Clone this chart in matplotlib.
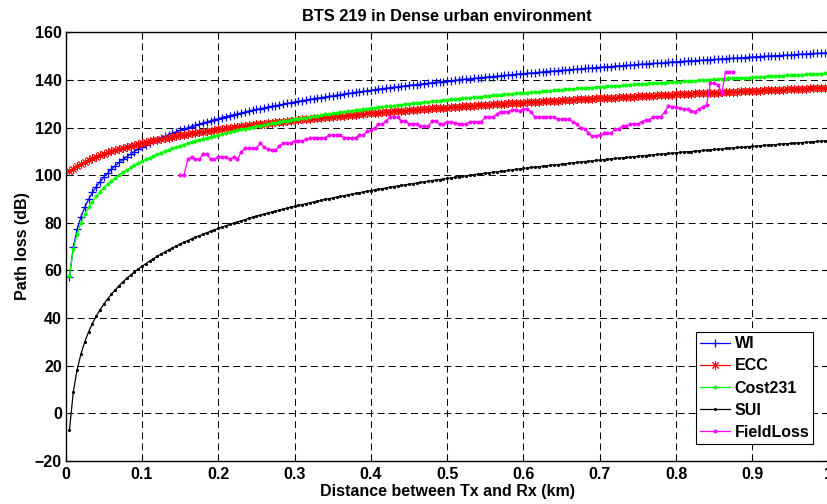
import numpy as np
import matplotlib
matplotlib.use('Agg')
import matplotlib.pyplot as plt

plt.rcParams['font.family'] = ['Liberation Sans', 'DejaVu Sans']
plt.rcParams['font.weight'] = 'bold'
plt.rcParams['font.size'] = 11.5
plt.rcParams['lines.scale_dashes'] = False

# distance samples (km), every 5 m
dist = np.arange(1, 201) * 0.005

wi = [57.2, 69.8, 77.2, 82.4, 86.5, 89.8, 92.7, 95.1, 97.2, 99.2,
      100.9, 102.5, 103.9, 105.3, 106.6, 107.7, 108.8, 109.9, 110.9, 111.8,
      112.6, 113.4, 114.2, 114.9, 115.6, 116.3, 117.0, 117.6, 118.2, 118.8,
      119.3, 119.9, 120.4, 120.9, 121.4, 121.9, 122.4, 122.8, 123.3, 123.7,
      124.2, 124.6, 125.0, 125.4, 125.7, 126.1, 126.5, 126.9, 127.2, 127.6,
      127.9, 128.2, 128.6, 128.9, 129.2, 129.5, 129.8, 130.1, 130.4, 130.7,
      131.0, 131.3, 131.5, 131.8, 132.1, 132.3, 132.6, 132.8, 133.1, 133.3,
      133.6, 133.8, 134.1, 134.3, 134.5, 134.8, 135.0, 135.2, 135.4, 135.6,
      135.9, 136.1, 136.3, 136.5, 136.7, 136.9, 137.1, 137.3, 137.5, 137.7,
      137.9, 138.0, 138.2, 138.4, 138.6, 138.8, 139.0, 139.1, 139.3, 139.5,
      139.6, 139.8, 140.0, 140.2, 140.3, 140.5, 140.6, 140.8, 141.0, 141.1,
      141.3, 141.4, 141.6, 141.7, 141.9, 142.0, 142.2, 142.3, 142.5, 142.6,
      142.8, 142.9, 143.0, 143.2, 143.3, 143.5, 143.6, 143.7, 143.9, 144.0,
      144.1, 144.3, 144.4, 144.5, 144.6, 144.8, 144.9, 145.0, 145.1, 145.3,
      145.4, 145.5, 145.6, 145.8, 145.9, 146.0, 146.1, 146.2, 146.3, 146.5,
      146.6, 146.7, 146.8, 146.9, 147.0, 147.1, 147.2, 147.4, 147.5, 147.6,
      147.7, 147.8, 147.9, 148.0, 148.1, 148.2, 148.3, 148.4, 148.5, 148.6,
      148.7, 148.8, 148.9, 149.0, 149.1, 149.2, 149.3, 149.4, 149.5, 149.6,
      149.7, 149.8, 149.9, 150.0, 150.1, 150.2, 150.2, 150.3, 150.4, 150.5,
      150.6, 150.7, 150.8, 150.9, 151.0, 151.1, 151.1, 151.2, 151.3, 151.4]

ecc = [101.8, 102.6, 103.7, 104.6, 105.5, 106.3, 107.0, 107.7, 108.3, 108.9,
       109.5, 110.0, 110.5, 111.0, 111.5, 111.9, 112.3, 112.7, 113.1, 113.5,
       113.9, 114.2, 114.6, 114.9, 115.2, 115.5, 115.8, 116.1, 116.4, 116.7,
       117.0, 117.2, 117.5, 117.8, 118.0, 118.3, 118.5, 118.7, 119.0, 119.2,
       119.4, 119.6, 119.8, 120.1, 120.3, 120.5, 120.7, 120.9, 121.1, 121.3,
       121.4, 121.6, 121.8, 122.0, 122.2, 122.3, 122.5, 122.7, 122.9, 123.0,
       123.2, 123.4, 123.5, 123.7, 123.8, 124.0, 124.1, 124.3, 124.4, 124.6,
       124.7, 124.9, 125.0, 125.2, 125.3, 125.4, 125.6, 125.7, 125.9, 126.0,
       126.1, 126.3, 126.4, 126.5, 126.6, 126.8, 126.9, 127.0, 127.1, 127.3,
       127.4, 127.5, 127.6, 127.7, 127.9, 128.0, 128.1, 128.2, 128.3, 128.4,
       128.5, 128.6, 128.7, 128.9, 129.0, 129.1, 129.2, 129.3, 129.4, 129.5,
       129.6, 129.7, 129.8, 129.9, 130.0, 130.1, 130.2, 130.3, 130.4, 130.5,
       130.6, 130.7, 130.8, 130.9, 131.0, 131.1, 131.1, 131.2, 131.3, 131.4,
       131.5, 131.6, 131.7, 131.8, 131.9, 132.0, 132.0, 132.1, 132.2, 132.3,
       132.4, 132.5, 132.6, 132.6, 132.7, 132.8, 132.9, 133.0, 133.0, 133.1,
       133.2, 133.3, 133.4, 133.4, 133.5, 133.6, 133.7, 133.8, 133.8, 133.9,
       134.0, 134.1, 134.1, 134.2, 134.3, 134.4, 134.4, 134.5, 134.6, 134.7,
       134.7, 134.8, 134.9, 134.9, 135.0, 135.1, 135.2, 135.2, 135.3, 135.4,
       135.4, 135.5, 135.6, 135.6, 135.7, 135.8, 135.8, 135.9, 136.0, 136.0,
       136.1, 136.2, 136.2, 136.3, 136.4, 136.4, 136.5, 136.6, 136.6, 136.7]

cost231 = [57.7, 68.8, 75.3, 79.9, 83.5, 86.5, 88.9, 91.1, 93.0, 94.7,
           96.2, 97.6, 98.9, 100.1, 101.2, 102.2, 103.2, 104.1, 105.0, 105.8,
           106.6, 107.3, 108.0, 108.7, 109.4, 110.0, 110.6, 111.2, 111.8, 112.3,
           112.8, 113.4, 113.8, 114.3, 114.8, 115.2, 115.7, 116.1, 116.5, 116.9,
           117.3, 117.7, 118.1, 118.5, 118.8, 119.2, 119.5, 119.9, 120.2, 120.5,
           120.8, 121.2, 121.5, 121.8, 122.1, 122.3, 122.6, 122.9, 123.2, 123.5,
           123.7, 124.0, 124.2, 124.5, 124.7, 125.0, 125.2, 125.5, 125.7, 125.9,
           126.2, 126.4, 126.6, 126.8, 127.0, 127.3, 127.5, 127.7, 127.9, 128.1,
           128.3, 128.5, 128.7, 128.9, 129.0, 129.2, 129.4, 129.6, 129.8, 130.0,
           130.1, 130.3, 130.5, 130.7, 130.8, 131.0, 131.2, 131.3, 131.5, 131.7,
           131.8, 132.0, 132.1, 132.3, 132.4, 132.6, 132.7, 132.9, 133.0, 133.2,
           133.3, 133.5, 133.6, 133.8, 133.9, 134.0, 134.2, 134.3, 134.5, 134.6,
           134.7, 134.9, 135.0, 135.1, 135.2, 135.4, 135.5, 135.6, 135.8, 135.9,
           136.0, 136.1, 136.2, 136.4, 136.5, 136.6, 136.7, 136.8, 137.0, 137.1,
           137.2, 137.3, 137.4, 137.5, 137.6, 137.7, 137.9, 138.0, 138.1, 138.2,
           138.3, 138.4, 138.5, 138.6, 138.7, 138.8, 138.9, 139.0, 139.1, 139.2,
           139.3, 139.4, 139.5, 139.6, 139.7, 139.8, 139.9, 140.0, 140.1, 140.2,
           140.3, 140.4, 140.5, 140.6, 140.6, 140.7, 140.8, 140.9, 141.0, 141.1,
           141.2, 141.3, 141.4, 141.5, 141.5, 141.6, 141.7, 141.8, 141.9, 142.0,
           142.1, 142.1, 142.2, 142.3, 142.4, 142.5, 142.6, 142.6, 142.7, 142.8]

sui = [-7.0, 8.9, 18.2, 24.8, 29.9, 34.1, 37.6, 40.7, 43.4, 45.8,
       48.0, 50.0, 51.8, 53.5, 55.1, 56.6, 58.0, 59.3, 60.5, 61.7,
       62.8, 63.9, 64.9, 65.9, 66.8, 67.7, 68.6, 69.4, 70.2, 71.0,
       71.8, 72.5, 73.2, 73.9, 74.5, 75.2, 75.8, 76.4, 77.0, 77.6,
       78.2, 78.7, 79.3, 79.8, 80.3, 80.8, 81.3, 81.8, 82.3, 82.7,
       83.2, 83.6, 84.1, 84.5, 84.9, 85.3, 85.7, 86.1, 86.5, 86.9,
       87.3, 87.6, 88.0, 88.4, 88.7, 89.1, 89.4, 89.8, 90.1, 90.4,
       90.8, 91.1, 91.4, 91.7, 92.0, 92.3, 92.6, 92.9, 93.2, 93.5,
       93.8, 94.1, 94.3, 94.6, 94.9, 95.2, 95.4, 95.7, 95.9, 96.2,
       96.4, 96.7, 96.9, 97.2, 97.4, 97.7, 97.9, 98.1, 98.4, 98.6,
       98.8, 99.1, 99.3, 99.5, 99.7, 99.9, 100.2, 100.4, 100.6, 100.8,
       101.0, 101.2, 101.4, 101.6, 101.8, 102.0, 102.2, 102.4, 102.6, 102.8,
       103.0, 103.2, 103.4, 103.5, 103.7, 103.9, 104.1, 104.3, 104.4, 104.6,
       104.8, 105.0, 105.2, 105.3, 105.5, 105.7, 105.8, 106.0, 106.2, 106.3,
       106.5, 106.7, 106.8, 107.0, 107.1, 107.3, 107.4, 107.6, 107.8, 107.9,
       108.1, 108.2, 108.4, 108.5, 108.7, 108.8, 109.0, 109.1, 109.2, 109.4,
       109.5, 109.7, 109.8, 109.9, 110.1, 110.2, 110.4, 110.5, 110.6, 110.8,
       110.9, 111.0, 111.2, 111.3, 111.4, 111.6, 111.7, 111.8, 112.0, 112.1,
       112.2, 112.3, 112.5, 112.6, 112.7, 112.8, 113.0, 113.1, 113.2, 113.3,
       113.4, 113.6, 113.7, 113.8, 113.9, 114.0, 114.2, 114.3, 114.4, 114.5]

# measured loss, 0.150 km to 0.875 km
field_dist = np.arange(30, 176) * 0.005
field_loss = [100.0, 100.0, 106.6, 107.7, 106.6, 106.6, 108.7, 108.7, 106.6, 106.6,
              107.7, 107.7, 107.7, 106.6, 107.7, 106.6, 109.8, 111.2, 111.2, 111.2,
              111.2, 113.4, 111.8, 110.8, 110.5, 110.5, 112.2, 113.4, 113.4, 113.4,
              114.5, 114.5, 114.3, 115.0, 115.7, 115.7, 115.7, 115.7, 115.7, 116.7,
              116.7, 116.7, 116.7, 115.7, 115.7, 115.7, 115.7, 116.7, 116.7, 118.5,
              119.0, 119.9, 121.3, 121.3, 122.7, 124.4, 124.4, 124.4, 122.7, 122.7,
              121.6, 121.6, 121.6, 120.6, 120.6, 120.6, 122.6, 122.6, 121.6, 121.6,
              122.4, 122.4, 121.8, 121.5, 121.5, 121.5, 122.4, 122.4, 122.4, 122.4,
              124.4, 124.4, 124.4, 125.6, 126.7, 126.7, 126.7, 127.4, 127.4, 127.0,
              127.8, 127.8, 126.5, 124.4, 124.4, 124.4, 124.4, 124.4, 124.4, 123.4,
              123.4, 123.4, 123.4, 122.4, 121.3, 119.9, 119.5, 117.8, 116.4, 116.4,
              117.0, 117.5, 117.5, 117.5, 119.5, 119.5, 120.7, 120.7, 121.5, 121.5,
              121.5, 122.5, 123.0, 123.2, 124.6, 124.6, 124.6, 126.5, 129.0, 128.8,
              128.8, 128.1, 127.7, 127.7, 127.0, 126.7, 127.7, 128.8, 129.5, 138.6,
              138.6, 137.9, 134.4, 143.4, 143.4, 143.4]

x_ticks = [0, 0.1, 0.2, 0.3, 0.4, 0.5, 0.6, 0.7, 0.8, 0.9, 1.0]
x_tick_labels = ['0', '0.1', '0.2', '0.3', '0.4', '0.5', '0.6', '0.7', '0.8', '0.9', '1']
y_ticks = [-20, 0, 20, 40, 60, 80, 100, 120, 140, 160]

fig = plt.figure(figsize=(8.28, 5.04), dpi=100)
ax = fig.add_axes([0.0793, 0.0859, 0.9215, 0.85])

ax.plot(dist, wi, '-', color='b', marker='+', lw=0.9, ms=6, mew=0.9, label='WI')
ax.plot(dist, ecc, '-', color='r', marker=(8, 2, 0), lw=0.9, ms=6, mew=0.7, label='ECC')
ax.plot(dist, cost231, '-', color='#00ff00', marker='o', lw=0.9, ms=2.9, mew=0, label='Cost231')
ax.plot(dist, sui, '-', color='k', marker='o', lw=0.9, ms=2.3, mew=0, label='SUI')
ax.plot(field_dist, field_loss, '-', color='#ff00ff', marker='o', lw=0.9, ms=2.9, mew=0, label='FieldLoss')

ax.set_xlim(0, 1)
ax.set_ylim(-20, 160)
ax.set_xticks(x_ticks)
ax.set_xticklabels(x_tick_labels)
ax.set_yticks(y_ticks)

ax.set_axisbelow(True)
ax.grid(True, color='k', linestyle=(0, (5, 3)), lw=0.7)
ax.tick_params(direction='in', length=5, width=0.8, top=True, right=True)
ax.tick_params(axis='x', pad=4.2)
ax.tick_params(axis='y', pad=2.7)
for sp in ax.spines.values():
    sp.set_linewidth(1.0)

ax.set_title('BTS 219 in Dense urban environment', fontweight='bold', fontsize=11.8, pad=8)
ax.set_xlabel('Distance between Tx and Rx (km)', fontweight='bold')
ax.set_ylabel('Path loss (dB)', fontweight='bold')
ax.xaxis.set_label_coords(0.5, -0.054)
ax.yaxis.set_label_coords(-0.047, 0.5)

leg = ax.legend(loc='lower right', bbox_to_anchor=(0.980, 0.039), borderaxespad=0,
                fancybox=False, edgecolor='k', framealpha=1, numpoints=1,
                handlelength=1.9, handletextpad=0.3, labelspacing=0.45, borderpad=0.25,
                prop={'weight': 'bold', 'size': 11.5})
leg.get_frame().set_linewidth(0.8)

fig.savefig('out.png', dpi=100)
